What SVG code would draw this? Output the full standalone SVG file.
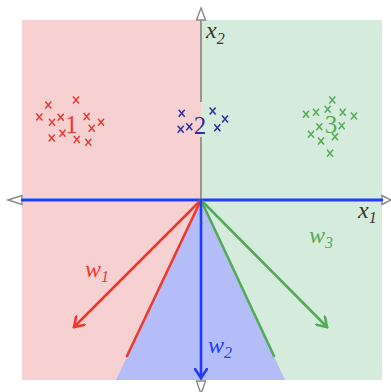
<svg xmlns="http://www.w3.org/2000/svg" xmlns:xlink="http://www.w3.org/1999/xlink" width="391" height="392" viewBox="0 0 391 392">
<style>
.ax{stroke:#6e6e6e;stroke-width:1.3;fill:none}
.axh{fill:#fff;stroke:#8a8a8a;stroke-width:1.4}
.lab{font-family:"Liberation Serif","Times New Roman",serif;font-style:italic}
.num{font-family:"Liberation Serif","Times New Roman",serif;font-size:25px;text-anchor:middle}
.red{stroke:#ec3a2f}
.blu{stroke:#1f3cf8}
.grn{stroke:#55aa58}
.vec{stroke-width:2.6;fill:none;stroke-linecap:round}
.mk{stroke-width:1.5;fill:none}
</style>
<defs>
<path id="xm" d="M-3,-3.5L3,3.5M3,-3.5L-3,3.5"/>
<marker id="arR" viewBox="-10 -7 12 14" markerWidth="12" markerHeight="14" refX="0" refY="0" orient="auto" markerUnits="userSpaceOnUse">
<path d="M-9,-6L0,0L-9,6" fill="none" stroke="#ec3a2f" stroke-width="2.6" stroke-linecap="round"/>
</marker>
<marker id="arB" viewBox="-10 -7 12 14" markerWidth="12" markerHeight="14" refX="0" refY="0" orient="auto" markerUnits="userSpaceOnUse">
<path d="M-9,-6L0,0L-9,6" fill="none" stroke="#1f3cf8" stroke-width="2.6" stroke-linecap="round"/>
</marker>
<marker id="arG" viewBox="-10 -7 12 14" markerWidth="12" markerHeight="14" refX="0" refY="0" orient="auto" markerUnits="userSpaceOnUse">
<path d="M-9,-6L0,0L-9,6" fill="none" stroke="#55aa58" stroke-width="2.6" stroke-linecap="round"/>
</marker>
</defs>
<rect width="391" height="392" fill="#fff"/>
<g id="regions">
<rect x="22" y="20" width="179" height="360" fill="#f7d1d1"/>
<rect x="201" y="20" width="181" height="360" fill="#d5ecdc"/>
<polygon points="201,200 116,380 285,380" fill="#b5bdf8"/>
</g>
<g id="axes">
<line class="ax" x1="201" y1="20" x2="201" y2="102"/>
<line class="ax" x1="201" y1="137" x2="201" y2="380"/>
<line x1="22" y1="200" x2="382" y2="200" stroke="#9fb0f5" stroke-width="4"/>
<polygon class="axh" points="8,200 22,195.5 22,204.5"/>
<polygon class="axh" points="391,200 382,195.5 382,204.5"/>
<polygon class="axh" points="201,8 196.5,20 205.5,20"/>
<polygon class="axh" points="201,394 196.5,381 205.5,381"/>
<text class="lab" font-size="24" x="206" y="38" fill="#333">x<tspan font-size="16" dy="6">2</tspan></text>
<text class="lab" font-size="24" x="358" y="218" fill="#333">x<tspan font-size="16" dy="5">1</tspan></text>
</g>
<g id="connectors">
<line class="vec blu" x1="22" y1="200" x2="382" y2="200" stroke-width="2.4"/>
<line class="vec red" x1="201" y1="200" x2="127" y2="356"/>
<line class="vec grn" x1="201" y1="200" x2="274" y2="356"/>
<line class="vec red" x1="201" y1="200" x2="74" y2="327" marker-end="url(#arR)"/>
<line class="vec grn" x1="201" y1="200" x2="327" y2="327" marker-end="url(#arG)"/>
<line class="vec blu" x1="201" y1="200" x2="201" y2="378" marker-end="url(#arB)"/>
</g>
<g id="w1"><text class="lab" font-size="24" x="85" y="277" fill="#ec3a2f">w<tspan font-size="16" dy="5">1</tspan></text></g>
<g id="w2"><text class="lab" font-size="24" x="208" y="353" fill="#1f3cf8">w<tspan font-size="16" dy="5">2</tspan></text></g>
<g id="w3"><text class="lab" font-size="24" x="309" y="243" fill="#55aa58">w<tspan font-size="16" dy="5">3</tspan></text></g>
<g id="cluster1" class="mk red">
<use xlink:href="#xm" x="76" y="100"/>
<use xlink:href="#xm" x="48.3" y="105"/>
<use xlink:href="#xm" x="39.3" y="117"/>
<use xlink:href="#xm" x="52" y="122.3"/>
<use xlink:href="#xm" x="60.7" y="117.3"/>
<use xlink:href="#xm" x="86.7" y="116.5"/>
<use xlink:href="#xm" x="101" y="122.3"/>
<use xlink:href="#xm" x="91.7" y="128.3"/>
<use xlink:href="#xm" x="62.5" y="133.3"/>
<use xlink:href="#xm" x="51.7" y="138"/>
<use xlink:href="#xm" x="76.7" y="139.5"/>
<use xlink:href="#xm" x="88.3" y="142.2"/>
<text class="num" x="71.5" y="133" fill="#ec3a2f" stroke="none">1</text>
</g>
<g id="cluster2" class="mk" stroke="#2e2e9e">
<use xlink:href="#xm" x="181.7" y="113.3"/>
<use xlink:href="#xm" x="180.7" y="129.3"/>
<use xlink:href="#xm" x="189.3" y="126.7"/>
<use xlink:href="#xm" x="212.7" y="111"/>
<use xlink:href="#xm" x="217.3" y="127.7"/>
<use xlink:href="#xm" x="225" y="119"/>
<text class="num" x="200" y="134" fill="#2e2e9e" stroke="none">2</text>
</g>
<g id="cluster3" class="mk grn">
<use xlink:href="#xm" x="332.3" y="100"/>
<use xlink:href="#xm" x="306" y="114.3"/>
<use xlink:href="#xm" x="316" y="112.3"/>
<use xlink:href="#xm" x="327.7" y="109.3"/>
<use xlink:href="#xm" x="342.7" y="112.3"/>
<use xlink:href="#xm" x="354" y="116"/>
<use xlink:href="#xm" x="319.3" y="126.7"/>
<use xlink:href="#xm" x="341.7" y="125.7"/>
<use xlink:href="#xm" x="311" y="134.3"/>
<use xlink:href="#xm" x="321" y="141"/>
<use xlink:href="#xm" x="335" y="136.7"/>
<use xlink:href="#xm" x="330" y="153.3"/>
<text class="num" x="331" y="133" fill="#55aa58" stroke="none">3</text>
</g>
</svg>
